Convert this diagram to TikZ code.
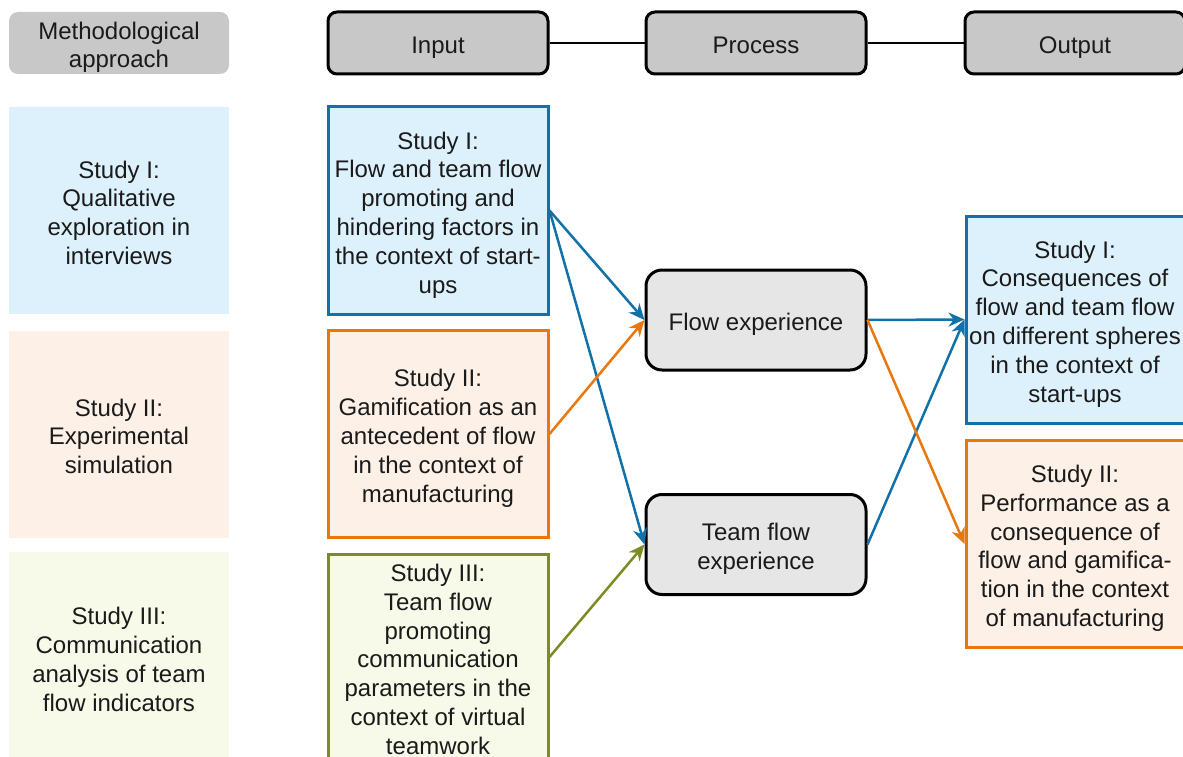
\documentclass[tikz,border=0pt]{standalone}
\usepackage{fontspec}
\setmainfont{Liberation Sans}
\usetikzlibrary{arrows.meta}
\definecolor{cblue}{HTML}{1072A8}
\definecolor{fblue}{HTML}{DDF1FC}
\definecolor{corange}{HTML}{E8770E}
\definecolor{forange}{HTML}{FDF0E6}
\definecolor{colive}{HTML}{7E8B22}
\definecolor{folive}{HTML}{F7F9E9}
\definecolor{hgray}{HTML}{C8C8C8}
\definecolor{pgray}{HTML}{E6E6E6}
\definecolor{tgray}{HTML}{1A1A1A}
\newcommand\sa{\rule{0pt}{26pt}}
\newcommand\mystrutB{\rule[-4.4pt]{0pt}{4.4pt}}
\tikzset{
  x=1pt, y=-1pt,
  txt/.style={font=\fontsize{24}{28.8}\selectfont, text=tgray, align=center, inner sep=0pt,
    execute at end node=\mystrutB},
  box/.style={txt, minimum width=220pt, minimum height=207pt, line width=3pt},
  hdr/.style={txt, minimum width=220pt, minimum height=62pt, rounded corners=9pt, fill=hgray},
  proc/.style={txt, minimum width=220pt, minimum height=100pt, rounded corners=16pt, fill=pgray, draw=black, line width=3pt},
  arr/.style={line width=2.5pt, -{Stealth[length=16pt,width=14pt]}},
}
\begin{document}
\begin{tikzpicture}
\useasboundingbox (0,0) rectangle (1183,757);
\begin{scope}
\clip (0,0) rectangle (1183,757);
% headers
\node[hdr] (meth) at (119,43) {\sa Methodological\\approach};
\node[hdr, draw=black, line width=3pt] (inp) at (438,43) {\sa Input};
\node[hdr, draw=black, line width=3pt] (pro) at (756,43) {\sa Process};
\node[hdr, draw=black, line width=3pt] (out) at (1075,43) {\sa Output};
\draw[line width=2pt] (inp) -- (pro);
\draw[line width=2pt] (pro) -- (out);
% methodological approach column
\node[box, fill=fblue] (m1) at (119,210.5) {\sa Study I:\\Qualitative\\exploration in\\interviews};
\node[box, fill=forange] (m2) at (119,434) {\sa Study II:\\Experimental\\simulation};
\node[box, fill=folive, minimum height=210pt] (m3) at (119,657) {\sa Study III:\\Communication\\analysis of team\\flow indicators};
% input column
\node[box, fill=fblue, draw=cblue] (i1) at (438,210.5) {\sa Study I:\\Flow and team flow\\promoting and\\hindering factors in\\the context of start-\\ups};
\node[box, fill=forange, draw=corange] (i2) at (438,434) {\sa Study II:\\Gamification as an\\antecedent of flow\\in the context of\\manufacturing};
\node[box, fill=folive, draw=colive, minimum height=206pt] (i3) at (438,657) {\sa Study III:\\Team flow\\promoting\\communication\\parameters in the\\context of virtual\\teamwork};
% process
\node[proc] (flow) at (756,320) {\sa Flow experience};
\node[proc] (team) at (756,544.5) {\sa Team flow\\experience};
% output
\node[box, fill=fblue, draw=cblue, minimum width=218pt] (o1) at (1075,319.5) {\sa Study I:\\Consequences of\\flow and team flow\\on different spheres\\in the context of\\start-ups};
\node[box, fill=forange, draw=corange, minimum width=218pt] (o2) at (1075,544) {\sa Study II:\\Performance as a\\consequence of\\flow and gamifica-\\tion in the context\\of manufacturing};
% arrows
\draw[arr, cblue] (i1.east) -- (flow.west);
\draw[arr, cblue] (i1.east) -- (team.west);
\draw[arr, corange] (i2.east) -- (flow.west);
\draw[arr, colive] (i3.east) -- (team.west);
\draw[arr, cblue] (flow.east) -- (o1.west);
\draw[arr, cblue] (team.east) -- (o1.west);
\draw[arr, corange] (flow.east) -- (o2.west);
\end{scope}
\end{tikzpicture}
\end{document}
